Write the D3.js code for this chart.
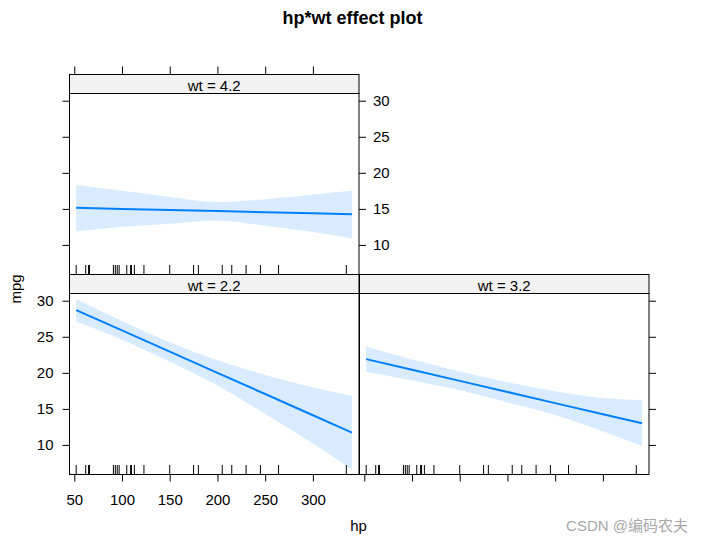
<!DOCTYPE html>
<html>
<head>
<meta charset="utf-8">
<script src="https://cdn.jsdelivr.net/npm/d3@7"></script>
<style>
  html, body { margin: 0; padding: 0; background: #fff; }
  svg { display: block; font-family: "Liberation Sans", Arial, sans-serif; }
</style>
</head>
<body>
<svg id="chart" width="705" height="547"></svg>
<script>
// ---- data ----
const hpGrid   = [52, 100, 150, 200, 250, 300, 341];

const wt22Fit   = [28.7, 25.88, 22.94, 20.0, 17.06, 14.12, 11.7];
const wt22Upper = [30.2, 27.2, 24.25, 21.75, 19.7, 18.0, 16.8];
const wt22Lower = [27.1, 24.6, 21.55, 18.25, 14.3, 10.2, 6.6];

const wt32Fit   = [21.9, 20.42, 18.88, 17.34, 15.8, 14.26, 13.0];
const wt32Upper = [23.65, 21.85, 20.2, 18.7, 17.45, 16.5, 16.2];
const wt32Lower = [20.15, 18.95, 17.6, 15.9, 14.15, 11.9, 9.85];

const wt42Fit   = [15.14, 14.99, 14.84, 14.69, 14.54, 14.39, 14.26];
const wt42Upper = [18.3, 17.5, 16.65, 15.95, 16.35, 17.0, 17.5];
const wt42Lower = [11.9, 12.5, 12.95, 13.4, 12.65, 11.8, 10.9];

const rugHp = [52, 62, 65, 66, 91, 93, 95, 97, 105, 109, 110, 113, 123,
               150, 175, 180, 205, 215, 230, 245, 264, 335];

const xTicks = [50, 100, 150, 200, 250, 300];
const yTicks = [10, 15, 20, 25, 30];
const stripLabels = ["wt = 2.2", "wt = 3.2", "wt = 4.2"];

const titleText = "hp*wt effect plot";
const xLabel = "hp";
const yLabel = "mpg";
const watermark = "CSDN @编码农夫";

// ---- layout ----
const svg = d3.select("#chart");
const colX = [69.5, 359.5];
const rowY = [74.5, 274.5];   // strip tops
const PW = 289.5, PH = 181, SH = 19;
const lineColor = "#0080ff";
const fontSize = 15;

const x = d3.scaleLinear().domain([45, 348.3]).range([0, PW]);
const y = d3.scaleLinear().domain([5.9, 31.0]).range([PH, 0]);

const panels = [
  { label: stripLabels[2], col: 0, row: 0, fit: wt42Fit, up: wt42Upper, lo: wt42Lower },
  { label: stripLabels[0], col: 0, row: 1, fit: wt22Fit, up: wt22Upper, lo: wt22Lower },
  { label: stripLabels[1], col: 1, row: 1, fit: wt32Fit, up: wt32Upper, lo: wt32Lower }
];

// title
svg.append("text")
  .attr("x", 352.5).attr("y", 23.5)
  .attr("text-anchor", "middle")
  .attr("font-weight", "bold")
  .attr("font-size", 18)
  .text(titleText);

panels.forEach(p => {
  const gx = colX[p.col], gy = rowY[p.row];
  const g = svg.append("g").attr("transform", `translate(${gx},${gy})`);

  // strip
  g.append("rect").attr("x", 0).attr("y", 0).attr("width", PW).attr("height", SH)
    .attr("fill", "#f2f2f2").attr("stroke", "#000").attr("stroke-width", 1);
  g.append("text").attr("x", PW / 2).attr("y", 16)
    .attr("text-anchor", "middle").attr("font-size", fontSize).text(p.label);

  const pg = g.append("g").attr("transform", `translate(0,${SH})`);
  const clipId = "clip" + p.col + p.row;
  pg.append("clipPath").attr("id", clipId)
    .append("rect").attr("width", PW).attr("height", PH);

  const data = hpGrid.map((h, i) => ({ h, f: p.fit[i], u: p.up[i], l: p.lo[i] }));
  const area = d3.area().curve(d3.curveMonotoneX)
    .x(d => x(d.h)).y0(d => y(d.l)).y1(d => y(d.u));
  const line = d3.line().x(d => x(d.h)).y(d => y(d.f));

  const inner = pg.append("g").attr("clip-path", `url(#${clipId})`);
  inner.append("path").datum(data).attr("d", area)
    .attr("fill", lineColor).attr("fill-opacity", 0.15);
  inner.append("path").datum(data).attr("d", line)
    .attr("fill", "none").attr("stroke", lineColor).attr("stroke-width", 2);

  // rug
  inner.selectAll("line.rug").data(rugHp).enter().append("line")
    .attr("x1", d => x(d)).attr("x2", d => x(d))
    .attr("y1", PH).attr("y2", PH - 9.5)
    .attr("stroke", "#000").attr("stroke-width", 1);

  // border
  pg.append("rect").attr("width", PW).attr("height", PH)
    .attr("fill", "none").attr("stroke", "#000").attr("stroke-width", 1);

  // axes
  function styleAxis(a) {
    a.select(".domain").remove();
    a.selectAll("text").attr("font-size", fontSize).attr("font-family", "Liberation Sans, Arial, sans-serif").attr("fill", "#000");
    a.selectAll("line").attr("stroke", "#000");
  }
  if (p.col === 0 && p.row === 1) {
    const al = pg.append("g").call(d3.axisLeft(y).tickValues(yTicks).tickSize(7).tickPadding(9));
    styleAxis(al);
    const ab = pg.append("g").attr("transform", `translate(0,${PH})`)
      .call(d3.axisBottom(x).tickValues(xTicks).tickSize(7).tickPadding(13));
    styleAxis(ab);
  }
  if (p.col === 1 && p.row === 1) {
    const ab = pg.append("g").attr("transform", `translate(0,${PH})`)
      .call(d3.axisBottom(x).tickValues(xTicks).tickSize(7).tickFormat(""));
    styleAxis(ab);
    const ar = pg.append("g").attr("transform", `translate(${PW},0)`)
      .call(d3.axisRight(y).tickValues(yTicks).tickSize(7).tickFormat(""));
    styleAxis(ar);
  }
  if (p.row === 0) {
    const al = pg.append("g").call(d3.axisLeft(y).tickValues(yTicks).tickSize(7).tickFormat(""));
    styleAxis(al);
    const ar = pg.append("g").attr("transform", `translate(${PW},0)`)
      .call(d3.axisRight(y).tickValues(yTicks).tickSize(7).tickPadding(7));
    styleAxis(ar);
    const at = g.append("g")
      .call(d3.axisTop(x).tickValues(xTicks).tickSize(8).tickFormat(""));
    styleAxis(at);
  }
});

// axis labels
svg.append("text").attr("x", 358.5).attr("y", 531)
  .attr("text-anchor", "middle").attr("font-size", fontSize).text(xLabel);
svg.append("text")
  .attr("transform", "translate(21,289) rotate(-90)")
  .attr("text-anchor", "middle").attr("font-size", fontSize).text(yLabel);

// watermark
svg.append("text").attr("x", 688).attr("y", 531)
  .attr("text-anchor", "end").attr("font-size", 15)
  .attr("font-family", "Liberation Sans, 'Noto Sans CJK SC', sans-serif")
  .attr("fill", "#a8a8a8").text(watermark);
</script>
</body>
</html>
